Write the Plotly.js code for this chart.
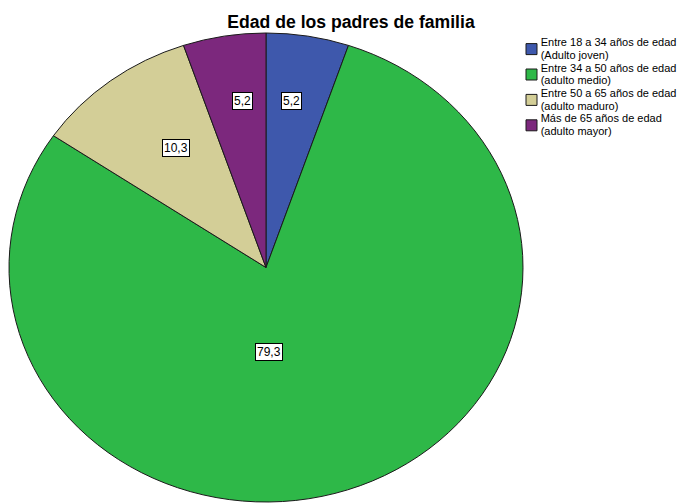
<!DOCTYPE html>
<html>
<head>
<meta charset="utf-8">
<script src="https://cdn.plot.ly/plotly-3.0.1.min.js"></script>
<style>
  html, body { margin: 0; padding: 0; background: #fff; }
  #chart { width: 692px; height: 504px; }
</style>
</head>
<body>
<div id="chart"></div>
<script>
// ---- data ----
const categories = [
  "Entre 18 a 34 años de edad<br>(Adulto joven)",
  "Entre 34 a 50 años de edad<br>(adulto medio)",
  "Entre 50 a 65 años de edad<br>(adulto maduro)",
  "Más de 65 años de edad<br>(adulto mayor)"
];
const percentages = [5.2, 79.3, 10.3, 5.2];
const valueLabels = ["5,2", "79,3", "10,3", "5,2"];

// ---- styling / layout ----
const colors = ["#3E58AC", "#2EB848", "#D3CE97", "#7C287D"];
const W = 692, H = 504;
const cx = 266, cy = 267.5;      // ellipse centre (px)
const ry = 234.5, rx = 257;      // ellipse radii (px)
const stretch = rx / ry;
// label anchors in normalised ellipse units (x right, y up)
const labelAnchors = [[0.098, 0.750], [0.010, -0.399], [-0.405, 0.549], [-0.090, 0.750]];
// legend fine placement (px)
const legendLeft = 511.5, legendFirstCenter = 49.1, legendPitch = 25.4, legendTextX = 29.2, legendLineEm = 1.16;

const FONT = "Liberation Sans, Arial, sans-serif";

const annotations = valueLabels.map((t, i) => ({
  xref: "paper", yref: "paper",
  x: (cx + labelAnchors[i][0] * rx) / W,
  y: 1 - (cy - labelAnchors[i][1] * ry) / H,
  text: t, showarrow: false,
  font: { family: FONT, size: 12, color: "#000" },
  bgcolor: "#ffffff", bordercolor: "#000000", borderwidth: 1, borderpad: 1
}));

const trace = {
  type: "pie",
  labels: categories,
  values: percentages,
  sort: false,
  direction: "clockwise",
  rotation: 0,
  textinfo: "none",
  hoverinfo: "label+percent",
  marker: { colors: colors, line: { color: "#1a1a1a", width: 1 } },
  domain: {
    x: [(cx - ry) / W, (cx + ry) / W],
    y: [(H - cy - ry) / H, (H - cy + ry) / H]
  }
};

const layout = {
  width: W, height: H,
  margin: { l: 0, r: 0, t: 0, b: 0 },
  paper_bgcolor: "#ffffff",
  title: {
    text: "<b>Edad de los padres de familia</b>",
    font: { family: FONT, size: 17.6, color: "#000" },
    x: 351 / W, xanchor: "center", xref: "paper",
    y: 1 - 21.5 / H, yanchor: "middle", yref: "paper"
  },
  showlegend: true,
  legend: {
    x: 480 / W, xanchor: "left",
    y: 1 - 34 / H, yanchor: "top",
    font: { family: FONT, size: 11, color: "#000" },
    bgcolor: "rgba(0,0,0,0)",
    traceorder: "normal"
  },
  annotations: annotations
};

Plotly.newPlot("chart", [trace], layout, { displayModeBar: false, staticPlot: true }).then(() => {
  // the reference pie is drawn as an ellipse: stretch the pie horizontally about its centre
  const pl = document.querySelector("#chart .pielayer");
  if (pl) {
    pl.setAttribute("transform", `translate(${cx},0) scale(${stretch},1) translate(${-cx},0)`);
    pl.querySelectorAll("path").forEach(p => p.setAttribute("vector-effect", "non-scaling-stroke"));
  }
  // tighten the legend to the compact SPSS-style spacing
  const leg = document.querySelector("#chart .legend");
  if (leg) {
    leg.setAttribute("transform", `translate(${legendLeft},0)`);
    const sb = leg.querySelector(".scrollbox");
    if (sb) { sb.removeAttribute("clip-path"); sb.setAttribute("transform", "translate(0,0)"); }
    leg.querySelectorAll(".traces").forEach((g, i) => {
      g.setAttribute("transform", `translate(0,${legendFirstCenter + i * legendPitch})`);
      const t = g.querySelector("text.legendtext");
      if (t) {
        t.setAttribute("x", legendTextX);
        t.querySelectorAll("tspan.line").forEach((ts, k) => {
          ts.setAttribute("x", legendTextX);
          ts.setAttribute("dy", (k * legendLineEm) + "em");
        });
      }
      const p = g.querySelector("path.legendpie");
      if (p) p.setAttribute("d", "M5.5,5.5H-5.5V-5.5H5.5Z");
    });
  }
});
</script>
</body>
</html>
